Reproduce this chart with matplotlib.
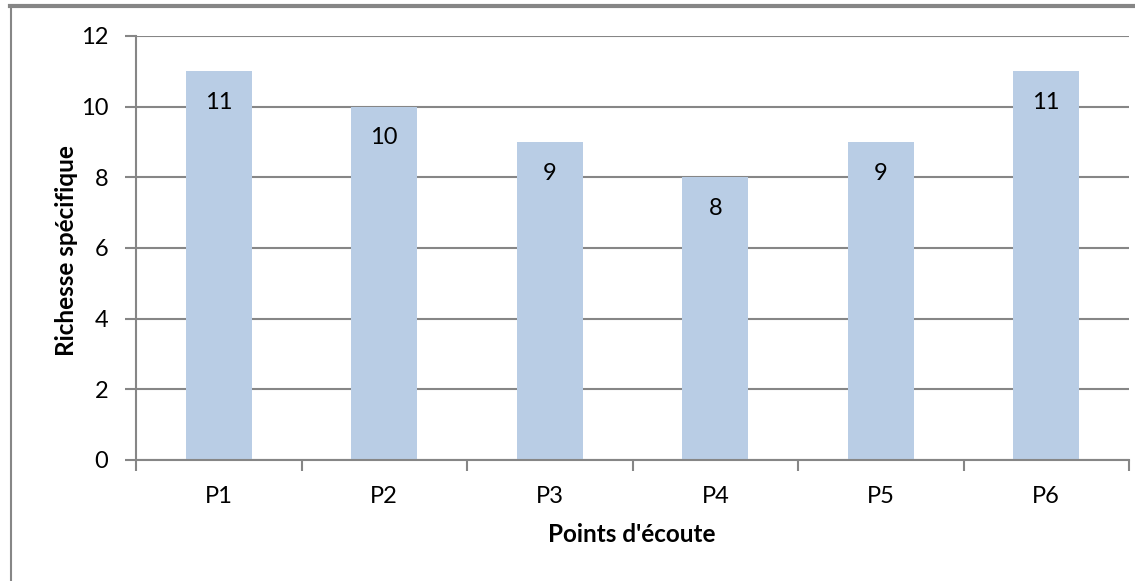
import numpy as np
import matplotlib
matplotlib.use('Agg')
import matplotlib.pyplot as plt

## Richesse spécifique par point d'écoute

points = ['P1', 'P2', 'P3', 'P4', 'P5', 'P6']
richesse = [11, 10, 9, 8, 9, 11]

plt.rcParams['font.family'] = ['Lato', 'DejaVu Sans']

fig = plt.figure(figsize=(11.35, 5.81), dpi=100)
ax = fig.add_axes([136/1135, 1 - 460/581, (1129-136)/1135, (460-36)/581])

x = np.arange(len(points))
bars = ax.bar(x, richesse, width=0.4, color='#b9cde5', zorder=2)

# value labels inside the top of each bar
for xi, v in zip(x, richesse):
  ax.text(xi, v - 0.88, str(v), ha='center', va='center', fontsize=17, color='black', zorder=3)

ax.set_xlim(-0.5, len(points) - 0.5)
ax.set_ylim(0, 12)
ax.set_yticks(np.arange(0, 13, 2))
ax.yaxis.grid(True, color='#868686', linewidth=1.5, zorder=0)
ax.set_axisbelow(True)

# ticks between categories on x axis, labels centered
ax.set_xticks(np.arange(-0.5, len(points)), minor=False)
ax.set_xticklabels([])
ax.set_xticks(x, minor=True)
ax.set_xticklabels(points, minor=True, fontsize=17)
ax.tick_params(axis='x', which='major', length=8, width=1.5, color='#868686')
ax.tick_params(axis='x', which='minor', length=0, pad=19)
ax.tick_params(axis='y', length=8, width=1.5, color='#868686', labelsize=17, pad=12)

for s in ['top', 'right']:
  ax.spines[s].set_visible(False)
for s in ['left', 'bottom']:
  ax.spines[s].set_color('#868686')
  ax.spines[s].set_linewidth(1.5)

fig.text(66/1135, 1 - 251/581, 'Richesse spécifique', rotation=90, ha='center', va='center',
         fontsize=17.5, fontweight='bold')
fig.text(632/1135, 1 - 534/581, "Points d'écoute", ha='center', va='center',
         fontsize=17.5, fontweight='bold')

# outer frame (top and left edges visible)
fig.add_artist(plt.Line2D([10/1135, 1], [1 - 6/581, 1 - 6/581], transform=fig.transFigure, color='#868686', linewidth=3))
fig.add_artist(plt.Line2D([11/1135, 11/1135], [0, 1 - 6/581], transform=fig.transFigure, color='#868686', linewidth=1.5))

fig.savefig('out.png', dpi=100)
